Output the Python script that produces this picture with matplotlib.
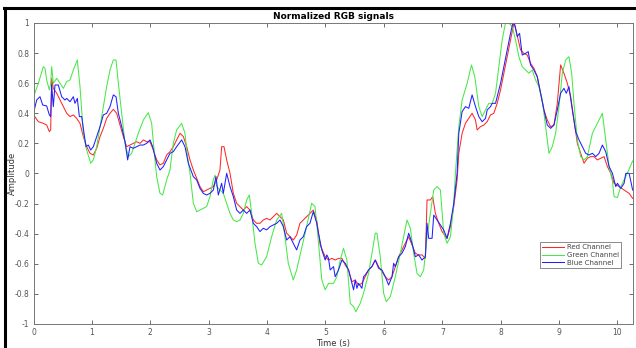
import matplotlib
matplotlib.use("Agg")
import matplotlib.pyplot as plt
from matplotlib.lines import Line2D
import numpy as np

# values (time in s, amplitude)
red_t = [0.0, 0.083, 0.168, 0.225, 0.271, 0.294, 0.311, 0.339, 0.397, 0.511, 0.568, 0.625, 0.682, 0.739,
         0.796, 0.853, 0.91, 0.967, 1.024, 1.082, 1.139, 1.196, 1.253, 1.31, 1.367, 1.424, 1.481, 1.538,
         1.595, 1.652, 1.709, 1.766, 1.824, 1.881, 1.938, 1.995, 2.052, 2.109, 2.166, 2.223, 2.28, 2.337,
         2.394, 2.451, 2.509, 2.566, 2.623, 2.68, 2.737, 2.794, 2.851, 2.908, 2.965, 3.022, 3.079, 3.136,
         3.193, 3.222, 3.262, 3.308, 3.365, 3.422, 3.479, 3.536, 3.593, 3.65, 3.707, 3.764, 3.821, 3.878,
         3.935, 3.992, 4.05, 4.107, 4.164, 4.221, 4.278, 4.335, 4.392, 4.449, 4.506, 4.563, 4.62, 4.677,
         4.734, 4.791, 4.849, 4.909, 4.995, 5.052, 5.109, 5.166, 5.223, 5.281, 5.338, 5.395, 5.452, 5.509,
         5.567, 5.624, 5.681, 5.738, 5.795, 5.853, 5.91, 5.967, 6.024, 6.081, 6.139, 6.196, 6.253, 6.31,
         6.367, 6.425, 6.482, 6.539, 6.596, 6.653, 6.711, 6.739, 6.796, 6.836, 6.882, 6.939, 6.997, 7.082,
         7.14, 7.197, 7.254, 7.283, 7.34, 7.397, 7.454, 7.511, 7.569, 7.597, 7.654, 7.712, 7.769, 7.826,
         7.883, 7.94, 7.998, 8.055, 8.112, 8.169, 8.226, 8.255, 8.301, 8.341, 8.398, 8.455, 8.512, 8.569,
         8.627, 8.684, 8.741, 8.798, 8.856, 8.913, 8.97, 9.027, 9.084, 9.142, 9.199, 9.256, 9.313, 9.37,
         9.428, 9.485, 9.542, 9.599, 9.656, 9.714, 9.771, 9.828, 9.885, 9.942, 10.028, 10.114, 10.2, 10.26]
red_y = [0.39, 0.344, 0.333, 0.322, 0.278, 0.289, 0.632, 0.566, 0.533, 0.444, 0.40, 0.378, 0.389, 0.366,
         0.333, 0.245, 0.178, 0.134, 0.123, 0.167, 0.245, 0.30, 0.366, 0.40, 0.426, 0.40, 0.322, 0.245,
         0.178, 0.189, 0.20, 0.211, 0.20, 0.223, 0.211, 0.211, 0.156, 0.09, 0.057, 0.068, 0.123, 0.145,
         0.178, 0.223, 0.267, 0.245, 0.178, 0.09, 0.023, -0.032, -0.087, -0.121, -0.11, -0.099, -0.087, -0.043,
         0.023, 0.178, 0.178, 0.09, 0.001, -0.132, -0.198, -0.22, -0.243, -0.22, -0.243, -0.309, -0.331, -0.331,
         -0.309, -0.298, -0.309, -0.287, -0.265, -0.287, -0.309, -0.397, -0.42, -0.442, -0.409, -0.331, -0.309, -0.287,
         -0.265, -0.243, -0.309, -0.475, -0.553, -0.575, -0.564, -0.575, -0.564, -0.564, -0.608, -0.641, -0.719, -0.708,
         -0.741, -0.73, -0.686, -0.641, -0.619, -0.575, -0.619, -0.652, -0.686, -0.708, -0.686, -0.619, -0.553, -0.508,
         -0.464, -0.42, -0.475, -0.53, -0.541, -0.541, -0.564, -0.176, -0.176, -0.154, -0.265, -0.331, -0.386, -0.431,
         -0.353, -0.22, -0.043, 0.134, 0.267, 0.333, 0.366, 0.40, 0.355, 0.289, 0.311, 0.322, 0.344, 0.389,
         0.40, 0.466, 0.555, 0.666, 0.776, 0.887, 0.998, 0.964, 0.887, 0.821, 0.798, 0.787, 0.732, 0.699,
         0.643, 0.533, 0.422, 0.355, 0.311, 0.322, 0.466, 0.721, 0.666, 0.599, 0.51, 0.355, 0.20, 0.134,
         0.068, 0.101, 0.112, 0.112, 0.09, 0.101, 0.112, 0.046, 0.001, -0.065, -0.087, -0.11, -0.132, -0.165]

green_t = [0.0, 0.083, 0.168, 0.197, 0.225, 0.271, 0.294, 0.311, 0.339, 0.397, 0.454, 0.511, 0.568, 0.625,
           0.682, 0.75, 0.796, 0.853, 0.91, 0.979, 1.024, 1.082, 1.139, 1.196, 1.253, 1.31, 1.367, 1.413,
           1.453, 1.51, 1.567, 1.624, 1.681, 1.738, 1.795, 1.881, 1.966, 2.023, 2.08, 2.109, 2.166, 2.212,
           2.28, 2.337, 2.394, 2.451, 2.537, 2.594, 2.623, 2.68, 2.737, 2.794, 2.851, 2.965, 3.022, 3.079,
           3.108, 3.136, 3.193, 3.25, 3.308, 3.365, 3.422, 3.479, 3.536, 3.593, 3.65, 3.696, 3.736, 3.793,
           3.85, 3.907, 3.992, 4.078, 4.164, 4.25, 4.306, 4.363, 4.449, 4.506, 4.592, 4.677, 4.763, 4.82,
           4.85, 4.937, 4.995, 5.052, 5.138, 5.195, 5.252, 5.309, 5.366, 5.424, 5.481, 5.521, 5.595, 5.652,
           5.738, 5.795, 5.853, 5.881, 5.938, 5.996, 6.041, 6.11, 6.196, 6.282, 6.339, 6.396, 6.453, 6.51,
           6.568, 6.625, 6.682, 6.739, 6.796, 6.854, 6.911, 6.968, 7.025, 7.082, 7.14, 7.197, 7.225, 7.283,
           7.34, 7.426, 7.5, 7.557, 7.626, 7.683, 7.74, 7.797, 7.855, 7.912, 7.969, 8.026, 8.083, 8.141,
           8.198, 8.255, 8.312, 8.369, 8.427, 8.484, 8.541, 8.598, 8.655, 8.713, 8.77, 8.827, 8.884, 8.941,
           8.999, 9.056, 9.113, 9.17, 9.216, 9.256, 9.313, 9.37, 9.428, 9.485, 9.571, 9.656, 9.742, 9.799,
           9.857, 9.914, 9.942, 10.0, 10.057, 10.143, 10.26]
green_y = [0.51, 0.599, 0.71, 0.699, 0.621, 0.555, 0.599, 0.71, 0.599, 0.632, 0.599, 0.566, 0.61, 0.621,
           0.688, 0.754, 0.577, 0.267, 0.156, 0.068, 0.09, 0.178, 0.311, 0.444, 0.577, 0.688, 0.754, 0.754,
           0.599, 0.40, 0.20, 0.112, 0.134, 0.20, 0.267, 0.355, 0.404, 0.333, 0.09, -0.021, -0.132, -0.143,
           -0.043, 0.023, 0.20, 0.289, 0.333, 0.267, 0.156, 0.001, -0.198, -0.254, -0.243, -0.22, -0.154, -0.043,
           -0.01, -0.087, -0.11, -0.132, -0.198, -0.265, -0.309, -0.32, -0.309, -0.265, -0.176, -0.143, -0.265, -0.464,
           -0.597, -0.608, -0.553, -0.42, -0.309, -0.265, -0.42, -0.597, -0.708, -0.641, -0.497, -0.353, -0.198, -0.22,
           -0.33, -0.708, -0.773, -0.73, -0.73, -0.686, -0.575, -0.497, -0.575, -0.863, -0.885, -0.918, -0.863, -0.796,
           -0.664, -0.53, -0.397, -0.397, -0.553, -0.796, -0.852, -0.818, -0.686, -0.53, -0.42, -0.309, -0.364, -0.53,
           -0.664, -0.686, -0.641, -0.42, -0.265, -0.11, -0.087, -0.11, -0.397, -0.464, -0.42, -0.198, 0.0, 0.311,
           0.488, 0.599, 0.721, 0.643, 0.444, 0.378, 0.422, 0.466, 0.466, 0.533, 0.71, 0.887, 1.0, 1.0,
           0.976, 0.887, 0.776, 0.71, 0.688, 0.666, 0.688, 0.621, 0.577, 0.488, 0.311, 0.134, 0.178, 0.267,
           0.444, 0.666, 0.754, 0.776, 0.666, 0.466, 0.223, 0.112, 0.09, 0.112, 0.267, 0.333, 0.40, 0.223,
           0.046, -0.05, -0.154, -0.16, -0.087, -0.02, 0.083]

blue_t = [0.0, 0.054, 0.111, 0.157, 0.225, 0.271, 0.294, 0.311, 0.339, 0.368, 0.425, 0.482, 0.539, 0.568,
          0.625, 0.682, 0.71, 0.75, 0.785, 0.825, 0.865, 0.899, 0.939, 0.979, 1.024, 1.082, 1.139, 1.196,
          1.253, 1.31, 1.367, 1.413, 1.453, 1.51, 1.567, 1.612, 1.652, 1.709, 1.766, 1.824, 1.881, 1.938,
          1.995, 2.04, 2.109, 2.166, 2.223, 2.28, 2.337, 2.394, 2.451, 2.537, 2.594, 2.651, 2.737, 2.794,
          2.851, 2.908, 2.965, 3.022, 3.079, 3.125, 3.165, 3.222, 3.25, 3.308, 3.365, 3.422, 3.479, 3.536,
          3.593, 3.65, 3.707, 3.764, 3.821, 3.878, 3.935, 3.992, 4.05, 4.107, 4.164, 4.221, 4.278, 4.335,
          4.392, 4.449, 4.506, 4.563, 4.62, 4.677, 4.734, 4.791, 4.85, 4.88, 4.937, 4.995, 5.023, 5.052,
          5.08, 5.138, 5.166, 5.223, 5.281, 5.338, 5.395, 5.452, 5.481, 5.509, 5.538, 5.567, 5.624, 5.652,
          5.681, 5.738, 5.795, 5.853, 5.91, 5.967, 6.024, 6.081, 6.139, 6.167, 6.196, 6.253, 6.31, 6.367,
          6.425, 6.482, 6.539, 6.596, 6.653, 6.711, 6.739, 6.768, 6.825, 6.854, 6.911, 6.968, 7.025, 7.082,
          7.14, 7.197, 7.254, 7.283, 7.34, 7.397, 7.454, 7.511, 7.569, 7.626, 7.683, 7.74, 7.769, 7.826,
          7.855, 7.912, 7.94, 7.998, 8.055, 8.112, 8.169, 8.209, 8.244, 8.284, 8.324, 8.369, 8.427, 8.472,
          8.512, 8.569, 8.627, 8.684, 8.741, 8.798, 8.856, 8.913, 8.97, 9.027, 9.084, 9.124, 9.17, 9.227,
          9.285, 9.342, 9.399, 9.456, 9.513, 9.571, 9.628, 9.685, 9.742, 9.799, 9.857, 9.914, 9.942, 9.971,
          10.0, 10.057, 10.114, 10.143, 10.2, 10.26]
blue_y = [0.40, 0.488, 0.51, 0.455, 0.449, 0.389, 0.378, 0.588, 0.444, 0.588, 0.588, 0.51, 0.488, 0.499,
          0.477, 0.51, 0.466, 0.499, 0.378, 0.378, 0.267, 0.178, 0.189, 0.156, 0.178, 0.245, 0.311, 0.389,
          0.40, 0.444, 0.522, 0.51, 0.40, 0.311, 0.211, 0.09, 0.178, 0.167, 0.178, 0.189, 0.189, 0.20,
          0.223, 0.178, 0.068, 0.023, 0.046, 0.09, 0.134, 0.145, 0.178, 0.223, 0.178, 0.068, -0.021, -0.043,
          -0.099, -0.132, -0.143, -0.132, -0.11, -0.021, -0.143, -0.065, -0.132, 0.001, -0.087, -0.154, -0.243, -0.265,
          -0.243, -0.265, -0.243, -0.331, -0.353, -0.386, -0.364, -0.375, -0.353, -0.342, -0.331, -0.309, -0.353, -0.442,
          -0.42, -0.464, -0.508, -0.442, -0.42, -0.353, -0.331, -0.254, -0.33, -0.397, -0.508, -0.575, -0.541, -0.564,
          -0.641, -0.619, -0.686, -0.641, -0.575, -0.597, -0.641, -0.73, -0.773, -0.708, -0.763, -0.73, -0.763, -0.686,
          -0.674, -0.641, -0.619, -0.575, -0.63, -0.641, -0.686, -0.741, -0.686, -0.597, -0.619, -0.553, -0.53, -0.486,
          -0.397, -0.464, -0.553, -0.541, -0.575, -0.553, -0.331, -0.431, -0.431, -0.276, -0.309, -0.342, -0.375, -0.431,
          -0.331, -0.198, 0.0, 0.267, 0.411, 0.444, 0.433, 0.522, 0.444, 0.378, 0.344, 0.366, 0.422, 0.444,
          0.466, 0.466, 0.51, 0.599, 0.71, 0.821, 0.931, 1.0, 0.987, 0.909, 0.931, 0.787, 0.798, 0.81,
          0.721, 0.688, 0.643, 0.533, 0.422, 0.322, 0.30, 0.322, 0.422, 0.533, 0.566, 0.533, 0.577, 0.422,
          0.278, 0.223, 0.178, 0.134, 0.123, 0.134, 0.112, 0.134, 0.189, 0.145, 0.046, 0.001, -0.043, -0.087,
          -0.065, -0.099, -0.065, 0.001, 0.001, -0.11]

x_ticks = [0, 1, 2, 3, 4, 5, 6, 7, 8, 9, 10]
y_ticks = [-1, -0.8, -0.6, -0.4, -0.2, 0, 0.2, 0.4, 0.6, 0.8, 1]
y_labels = ["-1", "-0.8", "-0.6", "-0.4", "-0.2", "0", "0.2", "0.4", "0.6", "0.8", "1"]

fig = plt.figure(figsize=(6.36, 3.48), dpi=100)
ax = fig.add_axes([0.0527, 0.069, 0.942, 0.865])

ax.plot(red_t, red_y, color="#ff2828", lw=0.75, label="Red Channel")
ax.plot(green_t, green_y, color="#48e848", lw=0.75, label="Green Channel")
ax.plot(blue_t, blue_y, color="#2020ff", lw=0.75, label="Blue Channel")

ax.set_xlim(0, 10.26)
ax.set_ylim(-1, 1)
ax.set_xticks(x_ticks)
ax.set_yticks(y_ticks)
ax.set_yticklabels(y_labels)
ax.tick_params(direction="in", top=True, right=True, length=3, width=0.6,
               labelsize=5.5, colors="#555555", pad=3)
for s in ax.spines.values():
    s.set_color("#777777")
    s.set_linewidth(0.7)

ax.set_title("Normalized RGB signals", fontsize=6.5, fontweight="bold", pad=3)
ax.set_xlabel("Time (s)", fontsize=6, color="#333333", labelpad=1)
ax.set_ylabel("Amplitude", fontsize=6, color="#333333")
ax.yaxis.set_label_coords(-0.028, 0.5)

leg = ax.legend(loc="lower right", bbox_to_anchor=(0.981, 0.186), fontsize=5,
                frameon=True, fancybox=False, borderpad=0.3, labelspacing=0.25,
                handlelength=3.2, handletextpad=0.4, borderaxespad=0)
leg.get_frame().set_edgecolor("#555555")
leg.get_frame().set_linewidth(0.6)
for t in leg.get_texts():
    t.set_color("#444444")

# dark frame around the screenshot (top and left edges)
fig.add_artist(Line2D([4 / 636, 1], [1 - 8 / 348, 1 - 8 / 348], color="black", lw=2.2,
                      transform=fig.transFigure))
fig.add_artist(Line2D([5 / 636, 5 / 636], [0, 1 - 8 / 348], color="black", lw=2.2,
                      transform=fig.transFigure))

fig.savefig("out.png", dpi=100)
